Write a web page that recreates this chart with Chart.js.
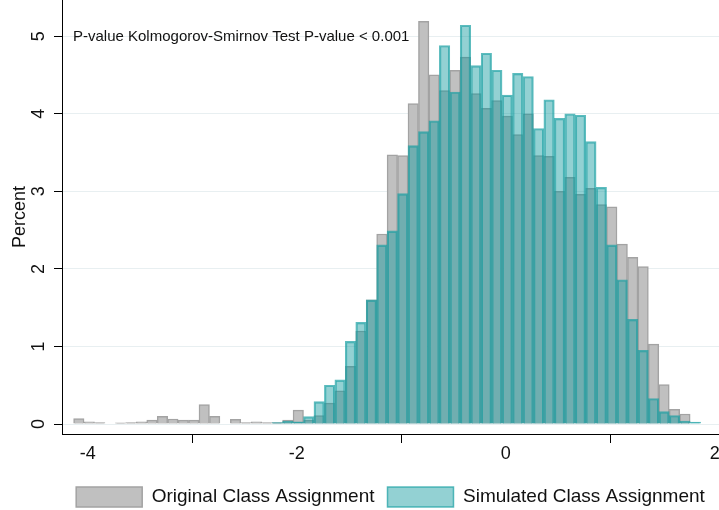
<!DOCTYPE html>
<html lang="en">
<head>
  <meta charset="UTF-8" />
  <title>Original vs Simulated Class Assignment</title>
  <script src="https://cdn.jsdelivr.net/npm/chart.js"></script>
  <style>
    html, body {
      margin: 0;
      padding: 0;
      background: #ffffff;
    }
    #wrap {
      width: 719px;
      height: 510px;
    }
  </style>
</head>
<body>
  <div id="wrap">
    <canvas id="histo" width="719" height="510"></canvas>
  </div>

  <script>
    // histogram bins: first bin starts at binStart, each bin binWidth wide
    const binStart = -4.135;
    const binWidth = 0.1;

    // percent per bin (null = no bar)
    const original = [
      0.07, 0.03, 0.02, 0, 0.015, 0.02, 0.03, 0.05, 0.1, 0.065,
      0.05, 0.05, 0.25, 0.1, 0, 0.06, 0.02, 0.03, 0.02, 0.02,
      0.05, 0.18, 0.05, 0.11, 0.27, 0.43, 0.745, 1.2, 1.6, 2.45,
      3.47, 3.46, 4.13, 5.19, 4.5, 4.3, 4.56, 4.73, 4.26, 4.07,
      4.17, 3.97, 3.73, 4.0, 3.46, 3.45, 3.0, 3.18, 2.96, 3.04,
      2.83, 2.8, 2.32, 2.15, 2.03, 1.03, 0.51, 0.19, 0.13, null
    ];
    const simulated = [
      null, null, null, null, null, null, null, null, null, null,
      null, null, null, null, null, null, null, null, null, 0.02,
      0.04, 0.03, 0.095, 0.29, 0.5, 0.57, 1.065, 1.31, 1.6, 2.31,
      2.49, 2.97, 3.59, 3.77, 3.91, 4.88, 4.28, 5.14, 4.62, 4.78,
      4.56, 4.24, 4.52, 4.48, 3.81, 4.18, 3.94, 4.0, 3.98, 3.64,
      3.05, 2.31, 1.86, 1.35, 0.95, 0.33, 0.16, 0.11, 0.04, 0.025
    ];

    const xTicks = [-4, -2, 0, 2];
    const yTicks = [0, 1, 2, 3, 4, 5];
    const seriesNames = ['Original Class Assignment', 'Simulated Class Assignment'];
    const noteText = 'P-value Kolmogorov-Smirnov Test P-value < 0.001';

    const FONT = '"Liberation Sans", Arial, Helvetica, sans-serif';

    // bar points at bin centers
    const toPoints = arr => arr.map((v, i) => ({ x: binStart + binWidth * (i + 0.5), y: v }));

    // the KS note in the top left corner
    const notePlugin = {
      id: 'ksNote',
      afterDraw(chart) {
        const ctx = chart.ctx;
        ctx.save();
        ctx.font = '15px ' + FONT;
        ctx.fillStyle = '#111';
        ctx.textBaseline = 'middle';
        ctx.textAlign = 'left';
        ctx.fillText(noteText, 73, 37);
        ctx.restore();
      }
    };

    const ctx = document.getElementById('histo').getContext('2d');
    const chart = new Chart(ctx, {
      type: 'bar',
      data: {
        datasets: [{
          label: seriesNames[0],
          data: toPoints(original),
          backgroundColor: '#c0c0c0',
          borderColor: '#a3a3a3',
          borderWidth: 1.5,
          order: 1,
          grouped: false,
          barPercentage: 1,
          categoryPercentage: 1
        }, {
          // see-through teal drawn over the gray bars
          label: seriesNames[1],
          data: toPoints(simulated),
          backgroundColor: 'rgba(10, 150, 154, 0.44)',
          borderColor: 'rgba(24, 159, 162, 0.7)',
          borderWidth: 1.5,
          order: 0,
          grouped: false,
          barPercentage: 1,
          categoryPercentage: 1
        }]
      },
      options: {
        responsive: false,
        animation: false,
        layout: { padding: { top: 0, left: 0, right: 0, bottom: -7 } },
        plugins: {
          legend: {
            position: 'bottom',
            fullSize: false,
            labels: {
              boxWidth: 66,
              boxHeight: 20,
              padding: 13,
              color: '#111',
              font: { family: FONT, size: 19 },
              sort: (a, b) => a.datasetIndex - b.datasetIndex
            }
          },
          tooltip: { enabled: false }
        },
        scales: {
          x: {
            type: 'linear',
            offset: false,
            min: -4.246,
            max: 2.041,
            afterBuildTicks: s => { s.ticks = xTicks.map(v => ({ value: v })); },
            afterFit: s => {
              s.height = 40;
              s.paddingLeft = 0;
              s.paddingRight = 0;
            },
            grid: {
              drawOnChartArea: false,
              drawTicks: true,
              tickLength: 9,
              tickColor: '#000'
            },
            border: { color: '#000', width: 1 },
            ticks: {
              padding: 0,
              color: '#111',
              maxRotation: 0,
              font: { family: FONT, size: 18 }
            }
          },
          y: {
            min: -0.128,
            max: 5.466,
            afterBuildTicks: s => { s.ticks = yTicks.map(v => ({ value: v })); },
            afterFit: s => {
              s.width = 62;
              s.paddingTop = 0;
              s.paddingBottom = 0;
            },
            grid: {
              color: '#e8eff1',
              tickColor: '#000',
              tickLength: 8
            },
            border: { color: '#000', width: 1 },
            title: {
              display: true,
              text: 'Percent',
              color: '#111',
              padding: { top: 9, bottom: 0 },
              font: { family: FONT, size: 18 }
            },
            ticks: {
              minRotation: 90,
              maxRotation: 90,
              crossAlign: 'center',
              padding: 10,
              color: '#111',
              font: { family: FONT, size: 18 }
            }
          }
        }
      },
      plugins: [notePlugin]
    });
  </script>
</body>
</html>
